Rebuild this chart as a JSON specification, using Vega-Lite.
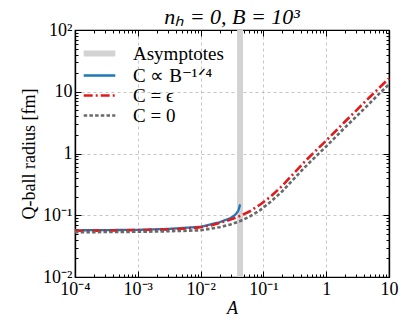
{
  "$schema": "https://vega.github.io/schema/vega-lite/v6.json",
  "width": 314,
  "height": 247,
  "autosize": {"type": "none"},
  "padding": {"left": 75, "top": 30, "right": 26, "bottom": 49},
  "title": {"text": "nₕ = 0,  B = 10³", "font": "Liberation Serif", "fontSize": 22, "fontWeight": "normal", "fontStyle": "italic", "color": "black", "offset": -8},
  "config": {
    "view": {"stroke": "black", "strokeWidth": 1.2},
    "axis": {
      "labelFont": "Liberation Serif", "labelFontSize": 18, "labelColor": "black",
      "titleFont": "Liberation Serif", "titleFontSize": 18, "titleFontWeight": "normal", "titleColor": "black",
      "domainColor": "black", "domainWidth": 1.2, "tickColor": "black", "tickWidth": 1,
      "gridColor": "#b8b8b8", "gridDash": [3, 3], "gridWidth": 0.8,
      "labelFlush": false, "labelOverlap": false
    },
    "legend": {"labelFont": "Liberation Serif", "labelFontSize": 19, "labelColor": "black"}
  },
  "datasets": {
    "curves": [
      {"series": "C = 0", "A": 0.0001, "r": 0.053},
      {"series": "C = 0", "A": 0.001, "r": 0.054},
      {"series": "C = 0", "A": 0.003, "r": 0.055},
      {"series": "C = 0", "A": 0.01, "r": 0.057},
      {"series": "C = 0", "A": 0.02, "r": 0.064},
      {"series": "C = 0", "A": 0.03, "r": 0.071},
      {"series": "C = 0", "A": 0.042, "r": 0.08},
      {"series": "C = 0", "A": 0.06, "r": 0.095},
      {"series": "C = 0", "A": 0.088, "r": 0.12},
      {"series": "C = 0", "A": 0.13, "r": 0.165},
      {"series": "C = 0", "A": 0.2, "r": 0.245},
      {"series": "C = 0", "A": 0.3, "r": 0.38},
      {"series": "C = 0", "A": 0.45, "r": 0.59},
      {"series": "C = 0", "A": 0.6, "r": 0.79},
      {"series": "C = 0", "A": 1, "r": 1.3},
      {"series": "C = 0", "A": 2, "r": 2.65},
      {"series": "C = 0", "A": 3, "r": 3.95},
      {"series": "C = 0", "A": 5, "r": 6.6},
      {"series": "C = 0", "A": 7, "r": 9.3},
      {"series": "C = 0", "A": 10, "r": 13.2},
      {"series": "C = ϵ", "A": 0.0001, "r": 0.056},
      {"series": "C = ϵ", "A": 0.0003, "r": 0.0565},
      {"series": "C = ϵ", "A": 0.001, "r": 0.0575},
      {"series": "C = ϵ", "A": 0.003, "r": 0.059},
      {"series": "C = ϵ", "A": 0.006, "r": 0.061},
      {"series": "C = ϵ", "A": 0.01, "r": 0.064},
      {"series": "C = ϵ", "A": 0.015, "r": 0.069},
      {"series": "C = ϵ", "A": 0.02, "r": 0.075},
      {"series": "C = ϵ", "A": 0.03, "r": 0.085},
      {"series": "C = ϵ", "A": 0.042, "r": 0.097},
      {"series": "C = ϵ", "A": 0.06, "r": 0.115},
      {"series": "C = ϵ", "A": 0.088, "r": 0.148},
      {"series": "C = ϵ", "A": 0.13, "r": 0.2},
      {"series": "C = ϵ", "A": 0.2, "r": 0.3},
      {"series": "C = ϵ", "A": 0.3, "r": 0.47},
      {"series": "C = ϵ", "A": 0.45, "r": 0.73},
      {"series": "C = ϵ", "A": 0.6, "r": 0.98},
      {"series": "C = ϵ", "A": 1, "r": 1.62},
      {"series": "C = ϵ", "A": 1.5, "r": 2.45},
      {"series": "C = ϵ", "A": 2, "r": 3.3},
      {"series": "C = ϵ", "A": 3, "r": 4.95},
      {"series": "C = ϵ", "A": 5, "r": 8.3},
      {"series": "C = ϵ", "A": 7, "r": 11.6},
      {"series": "C = ϵ", "A": 10, "r": 16.5},
      {"series": "C ∝ B⁻¹ᐟ⁴", "A": 0.0001, "r": 0.057},
      {"series": "C ∝ B⁻¹ᐟ⁴", "A": 0.001, "r": 0.058},
      {"series": "C ∝ B⁻¹ᐟ⁴", "A": 0.003, "r": 0.06},
      {"series": "C ∝ B⁻¹ᐟ⁴", "A": 0.01, "r": 0.065},
      {"series": "C ∝ B⁻¹ᐟ⁴", "A": 0.02, "r": 0.077},
      {"series": "C ∝ B⁻¹ᐟ⁴", "A": 0.03, "r": 0.09},
      {"series": "C ∝ B⁻¹ᐟ⁴", "A": 0.035, "r": 0.1},
      {"series": "C ∝ B⁻¹ᐟ⁴", "A": 0.038, "r": 0.11},
      {"series": "C ∝ B⁻¹ᐟ⁴", "A": 0.04, "r": 0.12},
      {"series": "C ∝ B⁻¹ᐟ⁴", "A": 0.0415, "r": 0.135},
      {"series": "C ∝ B⁻¹ᐟ⁴", "A": 0.0425, "r": 0.15},
      {"series": "Asymptotes", "A": 0.0425}
    ]
  },
  "data": {"name": "curves"},
  "resolve": {"axis": {"x": "independent", "y": "independent"}},
  "encoding": {
    "color": {"field": "series", "type": "nominal", "title": null,
      "scale": {"domain": ["Asymptotes", "C ∝ B⁻¹ᐟ⁴", "C = ϵ", "C = 0"], "range": ["#d3d3d3", "#1f77b4", "#e31a1c", "#696969"]},
      "legend": {"orient": "none", "legendX": 15, "legendY": 14, "symbolType": "stroke", "symbolSize": 1000, "rowPadding": -7, "labelOffset": 24, "padding": 0,
        "encode": {"symbols": {"update": {"strokeWidth": {"signal": "datum.value == 'Asymptotes' ? 6 : 2.5"}}}}}},
    "strokeDash": {"field": "series", "type": "nominal", "title": null,
      "scale": {"domain": ["Asymptotes", "C ∝ B⁻¹ᐟ⁴", "C = ϵ", "C = 0"], "range": [[1, 0], [1, 0], [9, 3, 2, 3], [3.5, 2.2]]}}
  },
  "layer": [
    {
      "transform": [{"filter": "datum.series == 'Asymptotes'"}],
      "mark": {"type": "rule", "strokeWidth": 6},
      "encoding": {
        "x": {"field": "A", "type": "quantitative", "scale": {"type": "log", "domain": [0.0001, 10]},
          "axis": {"orient": "bottom", "values": [0.0001, 0.001, 0.01, 0.1, 1, 10], "grid": true, "tickSize": -6, "labelPadding": 9,
            "labelExpr": "{'-4':'10⁻⁴','-3':'10⁻³','-2':'10⁻²','-1':'10⁻¹','0':'1','1':'10','2':'10²'}['' + round(log(datum.value)/LN10)]",
            "title": "A", "titleFontStyle": "italic", "titleFontSize": 18, "titlePadding": 1}},
        "y": {"datum": 0.01, "type": "quantitative", "scale": {"type": "log", "domain": [0.01, 100]},
          "axis": {"orient": "right", "values": [0.02,0.03,0.04,0.05,0.06,0.07,0.08,0.09,0.2,0.3,0.4,0.5,0.6,0.7,0.8,0.9,2,3,4,5,6,7,8,9,20,30,40,50,60,70,80,90], "labels": false, "grid": false, "tickSize": -3, "title": null}},
        "y2": {"datum": 100}
      }
    },
    {
      "transform": [{"filter": "datum.series == 'C ∝ B⁻¹ᐟ⁴'"}],
      "mark": {"type": "line", "strokeWidth": 2.3},
      "encoding": {
        "x": {"field": "A", "type": "quantitative", "scale": {"type": "log", "domain": [0.0001, 10]},
          "axis": {"orient": "top", "values": [0.0002,0.0003,0.0004,0.0005,0.0006,0.0007,0.0008,0.0009,0.002,0.003,0.004,0.005,0.006,0.007,0.008,0.009,0.02,0.03,0.04,0.05,0.06,0.07,0.08,0.09,0.2,0.3,0.4,0.5,0.6,0.7,0.8,0.9,2,3,4,5,6,7,8,9], "labels": false, "grid": false, "tickSize": -3, "title": null}},
        "y": {"field": "r", "type": "quantitative", "scale": {"type": "log", "domain": [0.01, 100]},
          "axis": {"orient": "left", "values": [0.02,0.03,0.04,0.05,0.06,0.07,0.08,0.09,0.2,0.3,0.4,0.5,0.6,0.7,0.8,0.9,2,3,4,5,6,7,8,9,20,30,40,50,60,70,80,90], "labels": false, "grid": false, "tickSize": -3, "title": null}}
      }
    },
    {
      "transform": [{"filter": "datum.series == 'C = ϵ'"}],
      "mark": {"type": "line", "strokeWidth": 2.6},
      "encoding": {
        "x": {"field": "A", "type": "quantitative", "scale": {"type": "log", "domain": [0.0001, 10]},
          "axis": {"orient": "top", "values": [0.0001, 0.001, 0.01, 0.1, 1, 10], "labels": false, "grid": false, "tickSize": -6, "title": null}},
        "y": {"field": "r", "type": "quantitative", "scale": {"type": "log", "domain": [0.01, 100]},
          "axis": {"orient": "right", "values": [0.01, 0.1, 1, 10, 100], "labels": false, "grid": false, "tickSize": -6, "title": null}}
      }
    },
    {
      "transform": [{"filter": "datum.series == 'C = 0'"}],
      "mark": {"type": "line", "strokeWidth": 2.6},
      "encoding": {
        "x": {"field": "A", "type": "quantitative", "scale": {"type": "log", "domain": [0.0001, 10]},
          "axis": {"orient": "bottom", "values": [0.0002,0.0003,0.0004,0.0005,0.0006,0.0007,0.0008,0.0009,0.002,0.003,0.004,0.005,0.006,0.007,0.008,0.009,0.02,0.03,0.04,0.05,0.06,0.07,0.08,0.09,0.2,0.3,0.4,0.5,0.6,0.7,0.8,0.9,2,3,4,5,6,7,8,9], "labels": false, "grid": false, "tickSize": -3, "title": null}},
        "y": {"field": "r", "type": "quantitative", "scale": {"type": "log", "domain": [0.01, 100]},
          "axis": {"orient": "left", "values": [0.01, 0.1, 1, 10, 100], "grid": true, "tickSize": -6, "labelPadding": 9,
            "labelExpr": "{'-4':'10⁻⁴','-3':'10⁻³','-2':'10⁻²','-1':'10⁻¹','0':'1','1':'10','2':'10²'}['' + round(log(datum.value)/LN10)]",
            "title": "Q-ball radius [fm]", "titlePadding": 4}}
      }
    }
  ]
}
